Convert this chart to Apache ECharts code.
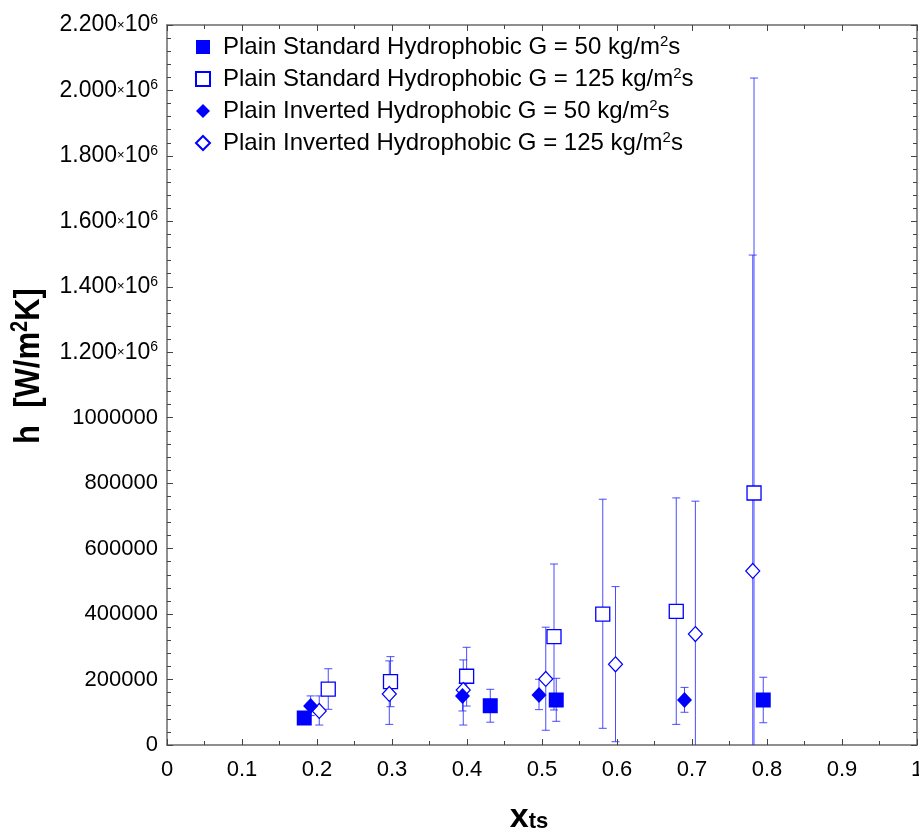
<!DOCTYPE html>
<html><head><meta charset="utf-8">
<script src="https://cdn.jsdelivr.net/npm/echarts@6/dist/echarts.min.js"></script>
<style>html,body{margin:0;padding:0;background:#fff}#c{width:919px;height:835px}</style>
</head><body><div id="c"></div>
<script>
// ---- data ----
const seriesNames = [
  'Plain Standard Hydrophobic G = 50 kg/m2s',
  'Plain Standard Hydrophobic G = 125 kg/m2s',
  'Plain Inverted Hydrophobic G = 50 kg/m2s',
  'Plain Inverted Hydrophobic G = 125 kg/m2s'
];
const legendMain = [
  'Plain Standard Hydrophobic G = 50 kg/m',
  'Plain Standard Hydrophobic G = 125 kg/m',
  'Plain Inverted Hydrophobic G = 50 kg/m',
  'Plain Inverted Hydrophobic G = 125 kg/m'
];
// Plain Standard G=50 (filled square)
const xStd50 = [0.183, 0.431, 0.519, 0.795];
const hStd50 = [82500, 120000, 137500, 137500];
const loStd50 = [82500, 69700, 72400, 68000];
const hiStd50 = [82500, 170200, 203800, 207000];
// Plain Standard G=125 (open square)
const xStd125 = [0.215, 0.298, 0.3995, 0.516, 0.581, 0.679, 0.7827];
const hStd125 = [171000, 193500, 210000, 331000, 400000, 408500, 770000];
const loStd125 = [109000, 117000, 119000, 107000, 51000, 63000, -300000];
const hiStd125 = [233000, 270000, 298500, 553000, 751000, 755000, 2038000];
// Plain Inverted G=50 (filled diamond)
const xInv50 = [0.1915, 0.394, 0.496, 0.69];
const hInv50 = [119000, 150000, 153000, 137500];
const loInv50 = [90000, 104000, 108000, 100000];
const hiInv50 = [150000, 189000, 200800, 176000];
// Plain Inverted G=125 (open diamond)
const xInv125 = [0.203, 0.2964, 0.395, 0.505, 0.598, 0.7045, 0.781];
const hInv125 = [104000, 156000, 168000, 201700, 246600, 339000, 531700];
const loInv125 = [61000, 63000, 61000, 45000, 10000, -300000, -300000];
const hiInv125 = [150000, 257000, 260000, 360000, 484000, 745000, 1497000];
// tick labels
const xTickLabels = ['0','0.1','0.2','0.3','0.4','0.5','0.6','0.7','0.8','0.9','1'];
const yTickLabels = ['0','200000','400000','600000','800000','1000000',
  '1.200','1.400','1.600','1.800','2.000','2.200'];
const yTickSci = [false,false,false,false,false,false,true,true,true,true,true,true];

// ---- build ----
const blue = '#0000ff';
const errColor = 'rgba(45,45,255,0.85)';
const FONT = 'Liberation Sans';
function zip(xs, ys){ return xs.map((x,i)=>[x, ys[i]]); }
function zip3(xs, lo, hi){ return xs.map((x,i)=>[x, lo[i], hi[i]]); }

function renderErr(params, api){
  const x = api.value(0), lo = api.value(1), hi = api.value(2);
  const a = api.coord([x, lo]), b = api.coord([x, hi]);
  const w = 4;
  const st = {stroke: errColor, lineWidth: 1};
  return {type:'group', children:[
    {type:'line', shape:{x1:a[0], y1:a[1], x2:b[0], y2:b[1]}, style:st},
    {type:'line', shape:{x1:b[0]-w, y1:b[1], x2:b[0]+w, y2:b[1]}, style:st},
    {type:'line', shape:{x1:a[0]-w, y1:a[1], x2:a[0]+w, y2:a[1]}, style:st}
  ]};
}
function errSeries(xs, lo, hi){
  return {type:'custom', renderItem: renderErr, data: zip3(xs, lo, hi),
    encode:{x:0, y:[1,2]}, clip:true, z:1, silent:true};
}

const superRich = {
  a: {fontFamily: FONT, fontSize: 22, color:'#000', lineHeight: 24},
  m: {fontFamily: FONT, fontSize: 23, color:'#000', lineHeight: 24},
  x: {fontFamily: FONT, fontSize: 13, color:'#000', lineHeight: 24},
  s: {fontFamily: FONT, fontSize: 14, color:'#000', lineHeight: 14, verticalAlign:'top'}
};

const chart = echarts.init(document.getElementById('c'));
const axisLineStyle = {color:'#6a6a6a', width:1.5};
chart.setOption({
  animation: false,
  backgroundColor: '#fff',
  grid: {left:167, top:25, right:2, bottom:90, show:false, containLabel:false, outerBoundsMode:'none'},
  legend: {
    data: seriesNames,
    orient: 'vertical', left: 190, top: 29, itemGap: 7,
    itemWidth: 14, itemHeight: 14,
    formatter: function(name){ const i = seriesNames.indexOf(name);
      return '{a|' + legendMain[i] + '}{s|2}{a|s}'; },
    textStyle: {padding:[0,0,0,8], rich: {
      a: {fontFamily: FONT, fontSize: 24, color:'#000', lineHeight: 26},
      s: {fontFamily: FONT, fontSize: 15, color:'#000', lineHeight: 15, verticalAlign:'top'}
    }}
  },
  xAxis: [{
    type:'value', min:0, max:1, interval:0.1, position:'bottom',
    axisLine:{show:true, onZero:false, lineStyle:axisLineStyle},
    axisTick:{show:true, inside:true, length:6, lineStyle:{color:'#444'}},
    minorTick:{show:true, splitNumber:2, length:4, lineStyle:{color:'#444'}},
    splitLine:{show:false},
    axisLabel:{margin:14, fontFamily:FONT, fontSize:22, color:'#000',
      formatter: v => xTickLabels[Math.round(v*10)]}
  },{
    type:'value', min:0, max:1, interval:0.1, position:'top',
    axisLine:{show:true, onZero:false, lineStyle:axisLineStyle},
    axisTick:{show:true, inside:true, length:6, lineStyle:{color:'#444'}},
    minorTick:{show:true, splitNumber:2, length:4, lineStyle:{color:'#444'}},
    splitLine:{show:false}, axisLabel:{show:false}
  }],
  yAxis: [{
    type:'value', min:0, max:2200000, interval:200000, position:'left',
    axisLine:{show:true, onZero:false, lineStyle:axisLineStyle},
    axisTick:{show:true, inside:true, length:6, lineStyle:{color:'#444'}},
    minorTick:{show:true, splitNumber:5, length:4, lineStyle:{color:'#444'}},
    splitLine:{show:false},
    axisLabel:{margin:9, align:'right',
      formatter: function(v){ const i = Math.round(v/200000);
        if (yTickSci[i]) return '{m|' + yTickLabels[i] + '}{x|×}{m|10}{s|6}';
        return '{a|' + yTickLabels[i] + '}'; },
      rich: superRich}
  },{
    type:'value', min:0, max:2200000, interval:200000, position:'right',
    axisLine:{show:true, onZero:false, lineStyle:axisLineStyle},
    axisTick:{show:true, inside:true, length:6, lineStyle:{color:'#444'}},
    minorTick:{show:true, splitNumber:5, length:4, lineStyle:{color:'#444'}},
    splitLine:{show:false}, axisLabel:{show:false}
  }],
  graphic: [
    {type:'text', x:29, y:366, rotation: Math.PI/2, scaleY:1.15, z:10,
     style:{text:'{b|h  [W/m}{s|2}{b|K]}', align:'center', verticalAlign:'middle',
       rich:{
         b:{fontFamily:FONT, fontWeight:'bold', fontSize:31, color:'#000', lineHeight:34},
         s:{fontFamily:FONT, fontWeight:'bold', fontSize:20, color:'#000', lineHeight:20, verticalAlign:'top'}
       }}},
    {type:'text', x:529, y:818, z:10,
     style:{text:'{b|x}{t|ts}', align:'center', verticalAlign:'middle',
       rich:{
         b:{fontFamily:FONT, fontWeight:'bold', fontSize:34, color:'#000', lineHeight:30},
         t:{fontFamily:FONT, fontWeight:'bold', fontSize:22, color:'#000', lineHeight:22, verticalAlign:'bottom'}
       }}}
  ],
  series: [
    errSeries(xStd50, loStd50, hiStd50),
    errSeries(xStd125, loStd125, hiStd125),
    errSeries(xInv50, loInv50, hiInv50),
    errSeries(xInv125, loInv125, hiInv125),
    {name: seriesNames[0], type:'scatter', symbol:'rect', symbolSize:15, z:5,
     itemStyle:{color:blue, opacity:1}, data: zip(xStd50, hStd50)},
    {name: seriesNames[1], type:'scatter', symbol:'rect', symbolSize:14, z:4,
     itemStyle:{color:'#fff', borderColor:blue, borderWidth:1.3, opacity:1}, data: zip(xStd125, hStd125)},
    {name: seriesNames[2], type:'scatter', symbol:'diamond', symbolSize:[15,16], z:5,
     itemStyle:{color:blue, opacity:1}, data: zip(xInv50, hInv50)},
    {name: seriesNames[3], type:'scatter', symbol:'diamond', symbolSize:[14,15], z:4,
     itemStyle:{color:'#fff', borderColor:blue, borderWidth:1.2, opacity:1}, data: zip(xInv125, hInv125)}
  ]
});
</script>
</body></html>
